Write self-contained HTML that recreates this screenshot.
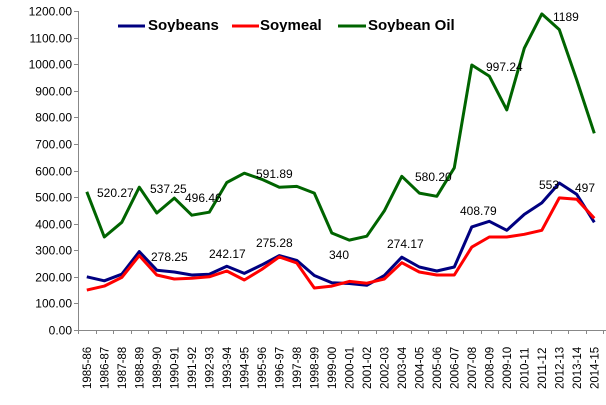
<!DOCTYPE html>
<html><head><meta charset="utf-8"><style>
body{margin:0;background:#fff;}
svg{display:block;font-family:"Liberation Sans",sans-serif;}
</style></head><body>
<svg width="606" height="405" viewBox="0 0 606 405" xmlns="http://www.w3.org/2000/svg">
<defs><clipPath id="lc"><rect x="0" y="0" width="606" height="32"/></clipPath></defs>
<g id="axes" stroke="#888" stroke-width="1" fill="none"></g>
<g id="ylab" font-size="12" fill="#000" text-anchor="end"></g>
<g id="xlab" font-size="11.5" fill="#000"></g>
<g id="series" fill="none" stroke-width="3" stroke-linejoin="round"></g>
<g id="dl" font-size="12" fill="#000">
<text x="97" y="197">520.27</text>
<text x="150" y="193">537.25</text>
<text x="185" y="202">496.46</text>
<text x="256" y="178">591.89</text>
<text x="415" y="181">580.20</text>
<text x="486" y="71">997.24</text>
<text x="553" y="21">1189</text>
<text x="539" y="189">553</text>
<text x="575" y="192">497</text>
<text x="151" y="261">278.25</text>
<text x="209" y="258">242.17</text>
<text x="256" y="247">275.28</text>
<text x="329" y="259">340</text>
<text x="387" y="248">274.17</text>
<text x="460" y="215">408.79</text>
</g>
<g clip-path="url(#lc)" font-size="15" font-weight="bold">
<line x1="118" y1="26" x2="145" y2="26" stroke="#000080" stroke-width="3"/>
<text x="148" y="30">Soybeans</text>
<line x1="232" y1="26" x2="259" y2="26" stroke="#ff0000" stroke-width="3"/>
<text x="260" y="30">Soymeal</text>
<line x1="338" y1="26" x2="366" y2="26" stroke="#006400" stroke-width="3"/>
<text x="368" y="30">Soybean Oil</text>
</g>
<script>
var ns="http://www.w3.org/2000/svg";
function el(p,t,a,txt){var e=document.createElementNS(ns,t);for(var k in a)e.setAttribute(k,a[k]);if(txt)e.textContent=txt;document.getElementById(p).appendChild(e);}
function Y(v){return 330-v*319/1200;}
var X0=78,dx=17.5;
el("axes","line",{x1:78.5,y1:11,x2:78.5,y2:330});
el("axes","line",{x1:78,y1:330.5,x2:606,y2:330.5});
for(var i=0;i<=12;i++){var y=Math.round(Y(i*100))+0.5;el("axes","line",{x1:74,y1:y,x2:78,y2:y});
el("ylab","text",{x:72,y:y+4},(i*100).toFixed(2));}
for(var i=0;i<=30;i++){var x=Math.round(X0+i*dx)+0.5;el("axes","line",{x1:x,y1:330,x2:x,y2:334});}
for(var i=0;i<30;i++){var yr=1985+i;var lab=yr+"-"+String((yr+1)%100).padStart(2,"0");var cx=X0+dx*(i+0.5)+4;
el("xlab","text",{x:0,y:0,transform:"translate("+cx+",389) rotate(-90)"},lab);}
var sb=[200,185,210,295,225,218,207,210,240,213,245,280,262,205,178,175,168,205,274,237,222,237,388,409,375,435,478,553,510,405];
var sm=[150,165,198,280,207,192,195,200,222,188,228,275,252,158,165,183,176,192,253,218,207,207,312,350,350,360,375,497,492,420];
var so=[520,350,405,537,440,496,432,443,555,590,567,537,540,515,365,338,353,448,578,515,503,610,997,955,828,1060,1189,1130,940,740];
function pl(d,c){var p=d.map(function(v,i){return (X0+dx*(i+0.5)).toFixed(1)+","+Y(v).toFixed(1)}).join(" ");el("series","polyline",{points:p,stroke:c});}
pl(so,"#006400");pl(sb,"#000080");pl(sm,"#ff0000");
</script>
</svg>
</body></html>
